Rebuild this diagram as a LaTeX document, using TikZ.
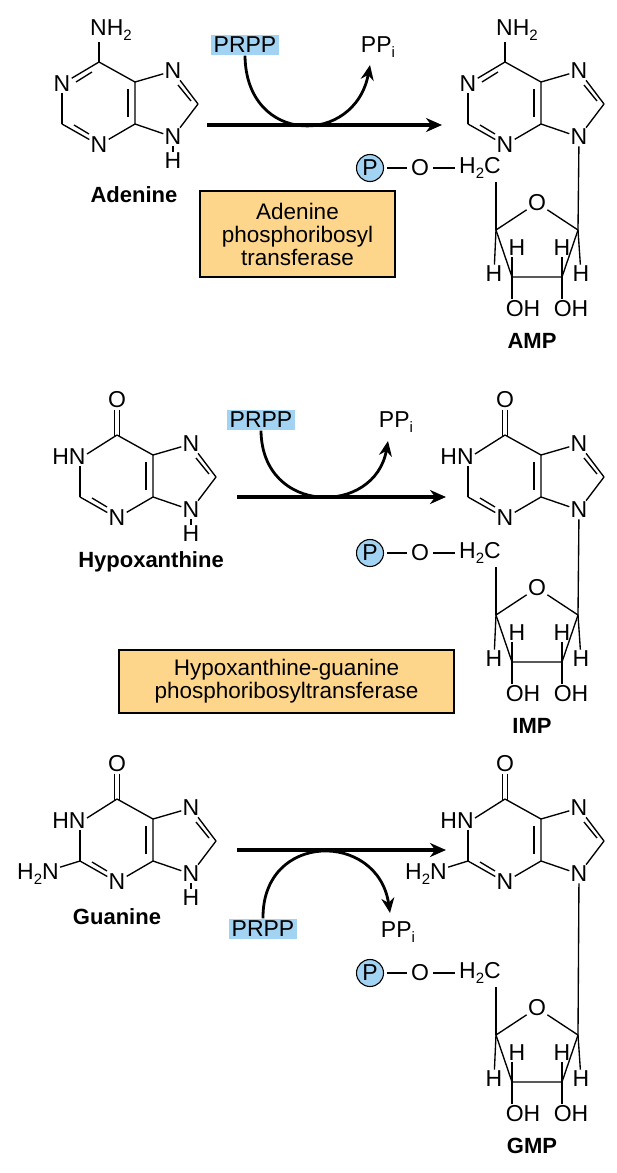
\documentclass[tikz,border=0pt]{standalone}
\usepackage{fontspec}
\setmainfont{Liberation Sans}
\usetikzlibrary{arrows.meta,calc}
\definecolor{pblue}{HTML}{A3D3F2}
\definecolor{enz}{HTML}{FDD68C}
\newcommand\chsub[1]{\raisebox{-0.45ex}{\fontsize{15}{15}\selectfont #1}}
\tikzset{
 atom/.style={font=\fontsize{23}{24}\selectfont, inner sep=1.2pt},
 bond/.style={line width=1.35pt},
 lbl/.style={font=\bfseries\fontsize{22}{24}\selectfont, inner sep=1pt},
 pcirc/.style={circle, draw, line width=1.1pt, fill=pblue, inner sep=0pt, minimum size=27pt, font=\fontsize{23}{24}\selectfont},
 prpp/.style={fill=pblue, inner sep=2.5pt, font=\fontsize{23}{24}\selectfont},
 enzbox/.style={draw, line width=1.2pt, fill=enz, align=center, font=\fontsize{22.5}{23}\selectfont},
 main/.style={line width=3.2pt, -{Stealth[length=16pt,width=14pt]}},
 curv/.style={line width=2.8pt, -{Stealth[length=15pt,width=13pt]}},
}
\newcommand\purine[6]{%
\begin{scope}[shift={(#2,#3)}]
 \coordinate (#1c6) at (0,0);
 \coordinate (#1c2) at (-37,62);
 \coordinate (#1c4) at (36,62);
 \coordinate (#1c5) at (36,20);
 \coordinate (#1c8) at (99,42);
 \node[atom] (#1n3) at (0,83) {N};
 \node[atom] (#1n7) at (74,9) {N};
 \node[atom] (#1n9) at (74,75) {N};
 \ifx a#4
   \node[atom] (#1n1) at (-37,22) {N};
   \node[atom] (#1sub) at (12,-32) {NH\chsub{2}};
   \draw[bond] (#1c6) -- (#1c6 |- #1sub.south);
   \draw[bond] (#1c6) -- (#1n1);
   \draw[bond] (#1n1) -- (#1c2);
   \draw[bond] (-7,10) -- (-23,20);
 \else
   \node[atom] (#1n1) at (-48,22) {HN};
   \node[atom] (#1sub) at (0,-35) {O};
   \draw[bond] ([xshift=-2.7pt]#1sub.south) -- (-2.7,1);
   \draw[bond] ([xshift=2.7pt]#1sub.south) -- (2.7,1);
   \draw[bond] (#1c6) -- ([yshift=3pt]#1n1.east);
   \draw[bond] ([xshift=11pt]#1n1.south) -- (#1c2);
 \fi
 \draw[bond] (#1c2) -- (#1n3);
 \draw[bond] (#1n3) -- (#1c4);
 \draw[bond] (#1c4) -- (#1c5) -- (#1c6);
 \draw[bond] (#1c5) -- (#1n7);
 \draw[bond] (#1n7) -- (#1c8);
 \draw[bond] (#1c8) -- (#1n9);
 \draw[bond] (#1n9) -- (#1c4);
 \draw[bond] (-25,63) -- (-10,72);
 \draw[bond] (29,27) -- (29,55);
 \draw[bond] (79,23) -- (92,39);
 \ifx g#5
   \node[atom] (#1nh2) at (-79,75) {H\chsub{2}N};
   \draw[bond] (#1c2) -- (#1nh2);
 \fi
 \ifx h#6
   \node[atom] (#1h9) at (74,99) {H};
   \draw[bond] (#1n9) -- (#1h9);
 \fi
\end{scope}}
\newcommand\ribose[5]{%
\begin{scope}[shift={(#2,#3)}]
 \node[pcirc] (#1p) at (0,0) {P};
 \node[atom] (#1o) at (50,0) {O};
 \node[atom] (#1h2c) at (110,0) {H\chsub{2}C};
 \draw[bond,shorten <=3pt,shorten >=3pt] (#1p) -- (#1o);
 \draw[bond,shorten <=3pt,shorten >=3pt] (#1o) -- (#1h2c);
 \coordinate (#1c5) at (126,14);
 \coordinate (#1c4) at (126,62);
 \node[atom] (#1or) at (167,35) {O};
 \coordinate (#1c1) at (208,62);
 \coordinate (#1c3) at (142,109);
 \coordinate (#1c2) at (192,109);
 \draw[bond] (#1c5) -- (#1c4);
 \draw[bond] (#1c4) -- (#1or);
 \draw[bond] (#1or) -- (#1c1);
 \draw[bond] (#1c1) -- (#1c2) -- (#1c3) -- (#1c4);
 \draw[bond] (#1c1) -- (#5);
 \node[atom] (#1h4) at (124,106) {H};
 \node[atom] (#1h1) at (211,106) {H};
 \node[atom] (#1h3) at (147,80) {H};
 \node[atom] (#1h2) at (192,80) {H};
 \node[atom] (#1oh3) at (153,141) {OH};
 \node[atom] (#1oh2) at (201,141) {OH};
 \draw[bond] (#1c4) -- (#1h4);
 \draw[bond] (#1c1) -- (#1h1);
 \draw[bond] (#1c3) -- (#1c3 |- #1h3.south);
 \draw[bond] (#1c2) -- (#1h2);
 \draw[bond] (#1c3) -- (#1c3 |- #1oh3.north);
 \draw[bond] (#1c2) -- (#1c2 |- #1oh2.north);
 \node[lbl] (#1lab) at (162,173) {#4};
\end{scope}}
\begin{document}
\begin{tikzpicture}[x=1pt,y=-1pt]
\useasboundingbox (0,0) rectangle (617,1173);
% --- adenine -> AMP
\purine{a}{99}{62}{a}{n}{h}
\node[lbl] (alab) at (134,195) {Adenine};
\purine{m}{505}{62}{a}{n}{r}
\ribose{mr}{370}{168}{AMP}{mn9}
\coordinate (a1s) at (207,125);
\coordinate (a1e) at (442,125);
\draw[main] (a1s) -- (a1e);
\node[prpp] (pr1) at (245,45) {PRPP};
\node[atom] (ppi1) at (378,47) {PP\chsub{i}};
\draw[curv] (pr1.south) .. controls (246,146) and (355,146) .. ([xshift=-8pt,yshift=-6pt]ppi1.south);
\node[enzbox, minimum width=195pt, minimum height=86pt] (e1) at (297.5,234) {Adenine\\phosphoribosyl\\transferase};
% --- hypoxanthine -> IMP
\purine{h}{117}{435}{o}{n}{h}
\node[lbl] (hlab) at (151,562) {Hypoxanthine};
\purine{i}{505}{435}{o}{n}{r}
\ribose{ir}{370}{553}{IMP}{in9}
\coordinate (a2s) at (237,497);
\coordinate (a2e) at (446,497);
\draw[main] (a2s) -- (a2e);
\node[prpp] (pr2) at (261,420) {PRPP};
\node[atom] (ppi2) at (396,422) {PP\chsub{i}};
\draw[curv] (pr2.south) .. controls (262,516) and (375,516) .. ([xshift=-8pt,yshift=-7pt]ppi2.south);
\node[enzbox, minimum width=335pt, minimum height=63pt] (e2) at (286.5,681.5) {Hypoxanthine-guanine\\phosphoribosyltransferase};
% --- guanine -> GMP
\purine{g}{117}{799}{o}{g}{h}
\node[lbl] (glab) at (117,917) {Guanine};
\purine{gm}{505}{799}{o}{g}{r}
\ribose{gr}{370}{973}{GMP}{gmn9}
\coordinate (a3s) at (237,850);
\coordinate (a3e) at (446,850);
\draw[main] (a3s) -- (a3e);
\node[prpp] (pr3) at (263,929) {PRPP};
\node[atom] (ppi3) at (398,932) {PP\chsub{i}};
\draw[curv] (pr3.north) .. controls (262,831) and (378,831) .. ([xshift=-8pt,yshift=7pt]ppi3.north);
\end{tikzpicture}
\end{document}
